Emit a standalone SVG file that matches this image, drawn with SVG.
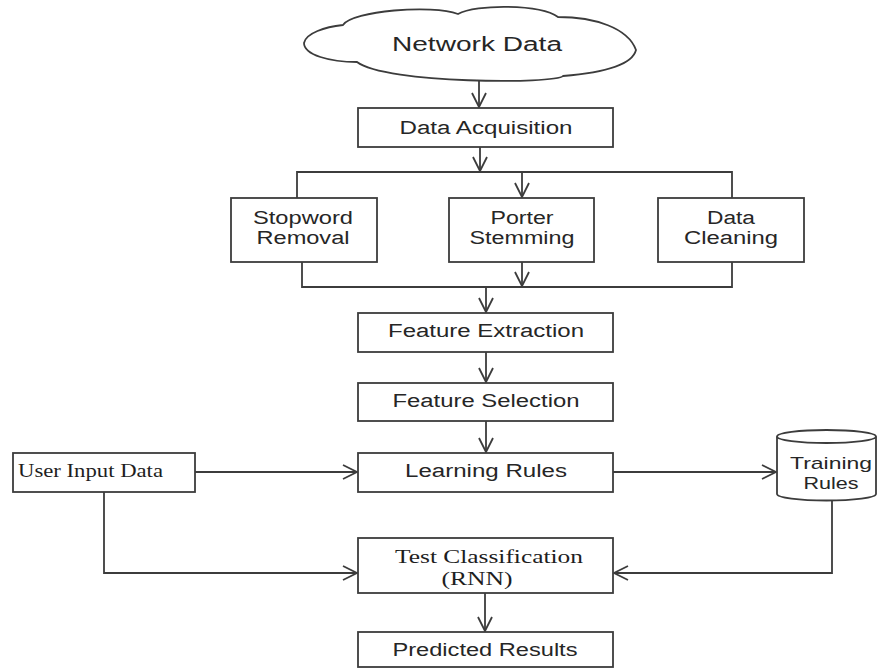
<svg xmlns="http://www.w3.org/2000/svg" width="877" height="669" viewBox="0 0 877 669">
  <style>
    .box { fill: #ffffff; stroke: #3c3c3c; stroke-width: 1.8; }
    .lbl { font-family: "Liberation Sans", Arial, sans-serif; font-size: 18px; fill: #262626; text-anchor: middle; }
    .ser { font-family: "Liberation Serif", "Times New Roman", serif; font-size: 18px; fill: #1e1e1e; }
    .wire { fill: none; stroke: #3c3c3c; stroke-width: 1.8; }
    .arr { marker-end: url(#head); }
  </style>
  <defs>
    <marker id="head" markerUnits="userSpaceOnUse" viewBox="-15 -8 17 16" refX="0" refY="0" markerWidth="17" markerHeight="16" orient="auto">
      <path d="M-14,-7 L0,0 L-14,7" fill="none" stroke="#3c3c3c" stroke-width="1.8"/>
    </marker>
  </defs>
  <rect width="877" height="669" fill="#ffffff"/>

  <g id="connectors">
    <!-- cloud to acquisition -->
    <line class="wire arr" x1="479" y1="79" x2="479" y2="107"/>
    <!-- acquisition to branch bus -->
    <line class="wire arr" x1="480" y1="147" x2="480" y2="171"/>
    <polyline class="wire" points="297,198 297,172 732,172 732,198"/>
    <line class="wire arr" x1="522" y1="172" x2="522" y2="197"/>
    <!-- merge bus -->
    <polyline class="wire" points="302,262 302,287 732,287 732,262"/>
    <line class="wire arr" x1="522" y1="262" x2="522" y2="286"/>
    <line class="wire arr" x1="486" y1="287" x2="486" y2="312"/>
    <!-- main chain -->
    <line class="wire arr" x1="486" y1="352" x2="486" y2="382"/>
    <line class="wire arr" x1="486" y1="421" x2="486" y2="452"/>
    <line class="wire arr" x1="195" y1="472" x2="357" y2="472"/>
    <line class="wire arr" x1="613" y1="472" x2="776" y2="472"/>
    <polyline class="wire arr" points="104,492 104,573 357,573"/>
    <polyline class="wire arr" points="832,500 832,573 614,573"/>
    <line class="wire arr" x1="485" y1="593" x2="485" y2="631"/>
  </g>

  <g id="network-data">
    <path class="box" d="M304,43 C306,33 325,27 343,25 C352,11 432,4 458,14 C476,4 540,4 558,17 C595,17 628,28 636,50 C632,66 600,73 563,76 C556,84 386,84 357,62 C330,62 304,55 304,43 Z"/>
    <text class="lbl" x="477" y="51" style="font-size:20px" textLength="170" lengthAdjust="spacingAndGlyphs">Network Data</text>
  </g>

  <g id="data-acquisition">
    <rect class="box" x="358" y="108" width="255" height="39"/>
    <text class="lbl" x="486" y="134" textLength="173" lengthAdjust="spacingAndGlyphs">Data Acquisition</text>
  </g>

  <g id="stopword-removal">
    <rect class="box" x="231" y="198" width="146" height="64"/>
    <text class="lbl" x="303" y="224" textLength="100" lengthAdjust="spacingAndGlyphs">Stopword</text>
    <text class="lbl" x="303" y="244" textLength="93" lengthAdjust="spacingAndGlyphs">Removal</text>
  </g>

  <g id="porter-stemming">
    <rect class="box" x="449" y="198" width="145" height="64"/>
    <text class="lbl" x="522" y="224" textLength="63" lengthAdjust="spacingAndGlyphs">Porter</text>
    <text class="lbl" x="522" y="244" textLength="105" lengthAdjust="spacingAndGlyphs">Stemming</text>
  </g>

  <g id="data-cleaning">
    <rect class="box" x="658" y="198" width="146" height="64"/>
    <text class="lbl" x="731" y="224" textLength="48" lengthAdjust="spacingAndGlyphs">Data</text>
    <text class="lbl" x="731" y="244" textLength="94" lengthAdjust="spacingAndGlyphs">Cleaning</text>
  </g>

  <g id="feature-extraction">
    <rect class="box" x="358" y="313" width="255" height="39"/>
    <text class="lbl" x="486" y="337" textLength="196" lengthAdjust="spacingAndGlyphs">Feature Extraction</text>
  </g>

  <g id="feature-selection">
    <rect class="box" x="358" y="383" width="255" height="38"/>
    <text class="lbl" x="486" y="407" textLength="187" lengthAdjust="spacingAndGlyphs">Feature Selection</text>
  </g>

  <g id="learning-rules">
    <rect class="box" x="358" y="453" width="255" height="39"/>
    <text class="lbl" x="486" y="477" textLength="162" lengthAdjust="spacingAndGlyphs">Learning Rules</text>
  </g>

  <g id="user-input-data">
    <rect class="box" x="13" y="453" width="182" height="39"/>
    <text class="ser" x="18" y="477" textLength="145" lengthAdjust="spacingAndGlyphs">User Input Data</text>
  </g>

  <g id="training-rules">
    <path class="box" d="M777,436.5 L777,494 A49.5,6.5 0 0 0 876,494 L876,436.5"/>
    <ellipse class="box" cx="826.5" cy="436.5" rx="49.5" ry="6.5"/>
    <text class="lbl" x="831" y="469" style="font-size:17px" textLength="82" lengthAdjust="spacingAndGlyphs">Training</text>
    <text class="lbl" x="831" y="489" style="font-size:17px" textLength="55" lengthAdjust="spacingAndGlyphs">Rules</text>
  </g>

  <g id="test-classification">
    <rect class="box" x="358" y="538" width="255" height="55"/>
    <text class="ser" x="489" y="563" text-anchor="middle" textLength="188" lengthAdjust="spacingAndGlyphs">Test Classification</text>
    <text class="ser" x="477" y="585" text-anchor="middle" textLength="71" lengthAdjust="spacingAndGlyphs">(RNN)</text>
  </g>

  <g id="predicted-results">
    <rect class="box" x="358" y="632" width="255" height="35"/>
    <text class="lbl" x="485" y="656" textLength="185" lengthAdjust="spacingAndGlyphs">Predicted Results</text>
  </g>
</svg>
